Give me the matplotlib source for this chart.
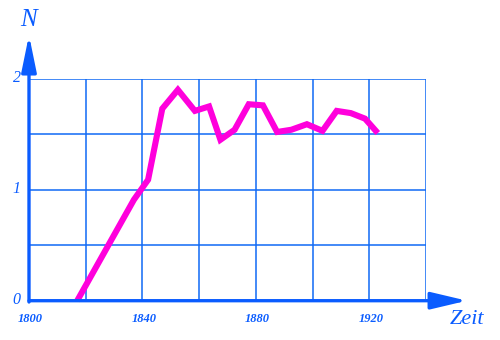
import matplotlib.pyplot as plt

# data
years = [1817, 1837, 1842, 1847, 1852.5, 1858.5, 1863.5, 1867.5, 1872.5, 1877.5,
         1882.5, 1887.5, 1892.5, 1898, 1903.5, 1908.5, 1913.5, 1918.5, 1923]
values = [0.0, 0.91, 1.09, 1.73, 1.90, 1.71, 1.75, 1.45, 1.54, 1.77,
          1.76, 1.52, 1.54, 1.59, 1.53, 1.71, 1.69, 1.64, 1.51]
xticks = [1800, 1840, 1880, 1920]
yticks = [0, 1, 2]

blue = '#0a5cff'
magenta = '#ff00dc'
font = 'Liberation Serif'

fig = plt.figure(figsize=(5, 3.4), dpi=100)
ax = fig.add_axes([29 / 500, 1 - 300.7 / 340, 397 / 500, 222 / 340])
ax.set_xlim(1800, 1940)
ax.set_ylim(0, 2)

ax.set_xticks(range(1800, 1941, 20))
ax.set_yticks([0, 0.5, 1, 1.5, 2])
ax.grid(True, color='#0f6af5', lw=1.1)
ax.tick_params(length=0, labelbottom=False, labelleft=False)
for s in ax.spines.values():
    s.set_visible(False)

ax.plot(years, values, color=magenta, lw=4.4, solid_joinstyle='miter',
        solid_capstyle='butt', clip_on=False, zorder=3)

# axes with arrows
ax.annotate('', xy=(467 / 500, 1 - 300.7 / 340), xycoords='figure fraction',
            xytext=(29 / 500, 1 - 300.7 / 340), textcoords='figure fraction',
            arrowprops=dict(arrowstyle='-|>,head_length=2.2,head_width=0.52',
                            color=blue, lw=2.4, shrinkA=0, shrinkB=0))
ax.annotate('', xy=(29 / 500, 1 - 35 / 340), xycoords='figure fraction',
            xytext=(29 / 500, 1 - 302 / 340), textcoords='figure fraction',
            arrowprops=dict(arrowstyle='-|>,head_length=2.2,head_width=0.45',
                            color=blue, lw=2.4, shrinkA=0, shrinkB=0))

for x in xticks:
    ax.text(x + 0.5, -0.165, str(x), color=blue, fontsize=9, fontstyle='italic',
            fontweight='bold', family=font, ha='center', va='center')
for y in yticks:
    ax.text(1795.6, y + 0.01, str(y), color=blue, fontsize=11.5, fontstyle='italic',
            family=font, ha='center', va='center')

fig.text(28 / 500, 1 - 20 / 340, 'N', color=blue, fontsize=18, fontstyle='italic',
         family=font, ha='center', va='center')
fig.text(467 / 500, 1 - 320 / 340, 'Zeit', color=blue, fontsize=16, fontstyle='italic',
         family=font, ha='center', va='center')

fig.savefig('out.png', dpi=100)
